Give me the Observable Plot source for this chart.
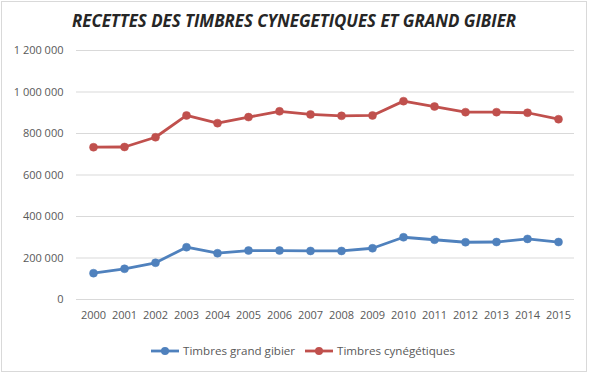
<!DOCTYPE html>
<html><head><meta charset="utf-8">
<script src="https://cdn.jsdelivr.net/npm/d3@7"></script>
<script src="https://cdn.jsdelivr.net/npm/@observablehq/plot@0.6"></script>
<style>
html,body{margin:0;padding:0;background:#fff;}
#wrap{position:relative;width:589px;height:373px;overflow:hidden;font-family:"Open Sans",sans-serif;}
#frame{position:absolute;left:1px;top:1px;width:586px;height:371px;border:1px solid #d9d9d9;box-sizing:border-box;}
#title{position:absolute;left:0;top:9px;width:589px;text-align:center;font-weight:bold;font-style:italic;font-size:17px;color:#262626;white-space:nowrap;}
#title span{display:inline-block;transform-origin:center;}
#chart{position:absolute;left:0;top:0;}
.leg{position:absolute;top:343px;font-size:11.6px;color:#595959;display:flex;align-items:center;white-space:nowrap;}
.leg svg{margin-right:4px;}
</style></head>
<body>
<div id="wrap">
<div id="frame"></div>
<div id="chart"></div>
<div id="title"><span>RECETTES DES TIMBRES CYNEGETIQUES ET GRAND GIBIER</span></div>
<div class="leg" id="leg1" style="left:151px"></div>
<div class="leg" id="leg2" style="left:305px"></div>
</div>
<script>
const years = ["2000","2001","2002","2003","2004","2005","2006","2007","2008","2009","2010","2011","2012","2013","2014","2015"];
const grandGibier = [127000,148000,177000,252000,223000,236000,236000,234000,234000,247000,300000,288000,276000,277000,292000,277000];
const cynegetiques = [734000,735000,782000,887000,850000,879000,907000,892000,885000,887000,956000,930000,903000,903000,900000,869000];
const yTicks = [0,200000,400000,600000,800000,1000000,1200000];
const seriesNames = ["Timbres grand gibier","Timbres cynégétiques"];
const seriesColors = ["#4F81BD","#C0504D"];

const fmt = d3.formatLocale({decimal:",",thousands:"\u00a0",grouping:[3],currency:["","€"]}).format(",d");
const data = [];
years.forEach((y,i)=>{
  data.push({year:y, value:grandGibier[i], series:seriesNames[0]});
  data.push({year:y, value:cynegetiques[i], series:seriesNames[1]});
});

const plot = Plot.plot({
  width:589, height:330,
  marginTop:50, marginBottom:31, marginLeft:76, marginRight:15,
  style:{fontFamily:"'Open Sans',sans-serif", fontSize:"11px", color:"#595959", background:"transparent"},
  x:{type:"point", domain:years, padding:0.5, label:null},
  y:{domain:[0,1200000], label:null},
  color:{domain:seriesNames, range:seriesColors},
  marks:[
    Plot.ruleY(yTicks,{stroke:"#d9d9d9", strokeWidth:1}),
    Plot.axisY({ticks:yTicks, tickSize:0, tickPadding:13, tickFormat:fmt, label:null, fill:"#595959"}),
    Plot.axisX({tickSize:0, tickPadding:12, label:null, fill:"#595959"}),
    Plot.line(data,{x:"year", y:"value", z:"series", stroke:"series", strokeWidth:2.8, strokeLinejoin:"round"}),
    Plot.dot(data,{x:"year", y:"value", fill:"series", r:4, stroke:"series", strokeWidth:0.5})
  ]
});
document.getElementById("chart").appendChild(plot);

function legItem(id, name, color){
  const el = document.getElementById(id);
  el.innerHTML = `<svg width="28" height="10"><line x1="0" y1="5" x2="28" y2="5" stroke="${color}" stroke-width="2.8"/><circle cx="14" cy="5" r="4" fill="${color}"/></svg><span>${name}</span>`;
}
legItem("leg1", seriesNames[0], seriesColors[0]);
legItem("leg2", seriesNames[1], seriesColors[1]);

const t = document.querySelector("#title span");
const w = t.getBoundingClientRect().width;
t.style.transform = `scaleX(${444/w})`;
</script>
</body></html>
